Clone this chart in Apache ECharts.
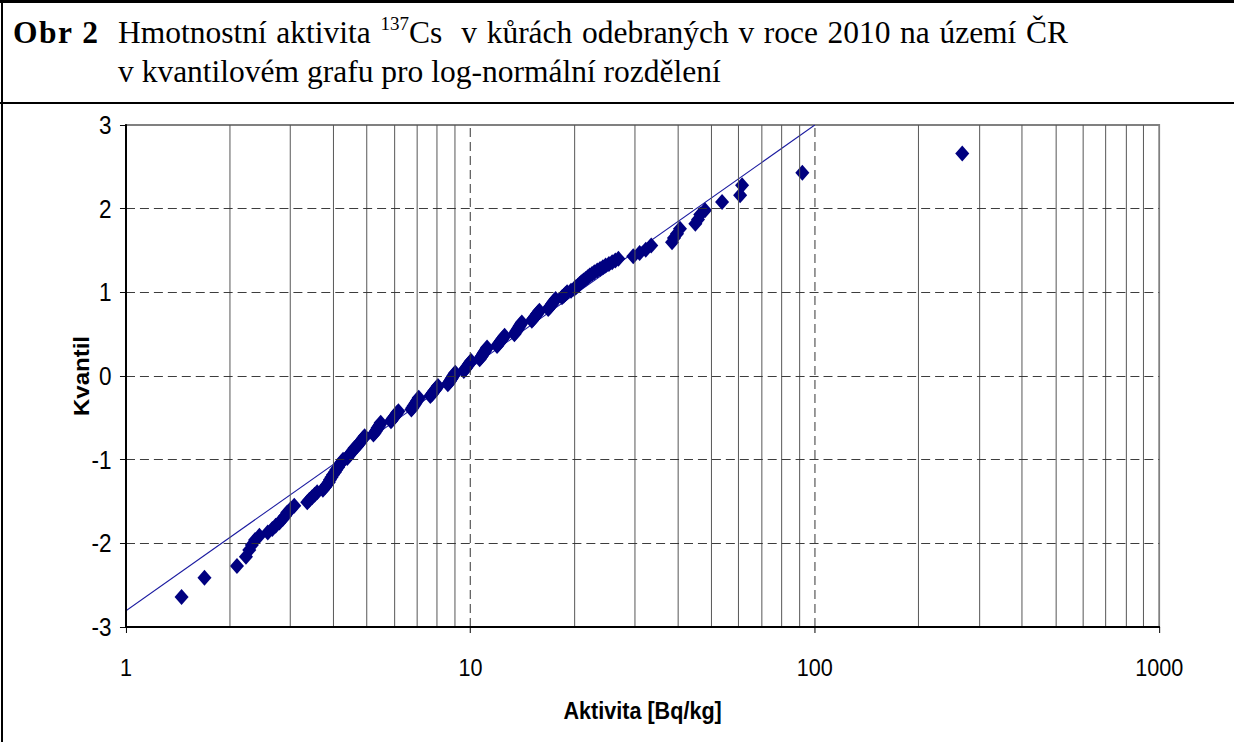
<!DOCTYPE html>
<html>
<head>
<meta charset="utf-8">
<title>Obr 2</title>
<script src="https://cdn.jsdelivr.net/npm/echarts@6.0.0/dist/echarts.min.js"></script>
<style>
  html, body { margin: 0; padding: 0; background: #fff; }
  #page { position: absolute; left: 0; top: 0; width: 1234px; height: 742px; overflow: hidden; background: #fff; }
  /* graf je v originále vodorovně mírně stlačený */
  #myChart { position: absolute; left: 0; top: 0; width: 1372px; height: 742px; transform: scaleX(0.9); transform-origin: 0 0; }
  .rule { position: absolute; background: #000; }
  .head { position: absolute; top: 13px; font-family: "Liberation Serif", "Times New Roman", serif; font-size: 31.5px; line-height: 39px; color: #000; white-space: nowrap; }
  .head sup { font-size: 19px; vertical-align: 13px; line-height: 0; }
  .r1 { word-spacing: 1.7px; }
</style>
</head>
<body>
<div id="page">
  <div id="myChart"></div>
  <div class="rule" style="left:0;top:0;width:1234px;height:3px"></div>
  <div class="rule" style="left:1px;top:0;width:2px;height:742px"></div>
  <div class="rule" style="left:0;top:102px;width:1234px;height:2px"></div>
  <div class="head" style="left:13px;letter-spacing:1.5px"><b>Obr 2</b></div>
  <div class="head" style="left:118px"><span class="r1">Hmotnostní aktivita <sup>137</sup>Cs&nbsp; v kůrách odebraných v&nbsp;roce 2010 na území ČR</span><br>v kvantilovém grafu pro log-normální rozdělení</div>
</div>
<script>
// naměřené hodnoty
var aktivita = [
  1.45, 1.69, 2.10, 2.23, 2.28, 2.32, 2.37, 2.44, 2.58, 2.66, 2.72, 2.79, 2.85, 2.90, 2.94, 3.01, 3.08,
  3.36, 3.41, 3.47, 3.53, 3.59, 3.73, 3.78, 3.83, 3.88, 3.91, 3.95, 3.99, 4.04, 4.08, 4.13, 4.17, 4.22, 4.27,
  4.39, 4.42, 4.46, 4.50, 4.54, 4.58, 4.61,
  4.69, 4.73, 4.77, 4.81, 4.85, 4.89, 4.93,
  5.23, 5.27, 5.31, 5.35, 5.38, 5.42, 5.46, 5.49,
  5.88, 5.93, 5.98, 6.03, 6.08, 6.13, 6.18,
  6.74, 6.79, 6.84, 6.89, 6.94, 6.99, 7.04, 7.08,
  7.65, 7.72, 7.78, 7.85, 7.92, 7.98, 8.05,
  8.60, 8.66, 8.73, 8.79, 8.85, 8.91, 8.98, 9.04,
  9.57, 9.65, 9.73, 9.81, 9.89, 9.97, 10.05,
  10.64, 10.72, 10.80, 10.87, 10.95, 11.03, 11.11, 11.18,
  11.95, 12.05, 12.16, 12.26, 12.36, 12.47, 12.57,
  13.42, 13.52, 13.62, 13.71, 13.81, 13.91, 14.00, 14.10,
  15.08, 15.21, 15.34, 15.47, 15.60, 15.73, 15.86,
  16.82, 16.96, 17.11, 17.25, 17.39, 17.54, 17.68,
  18.45, 18.66, 18.88, 19.09,
  19.6, 20.0, 20.25, 20.5, 20.75, 21.0, 21.3, 21.6, 21.9, 22.2, 22.55, 22.9, 23.35, 23.8, 24.25, 24.7, 25.25, 25.8, 26.35, 26.9,
  29.7, 31.0, 32.3, 33.5, 38.5, 39.0, 39.8, 40.6,
  45.0, 45.8, 46.5, 48.0, 53.8, 60.7, 61.5, 92, 268
];
var kvantil = [
  -2.64, -2.41, -2.27, -2.16, -2.08, -2.02, -1.96, -1.91, -1.87, -1.83, -1.79, -1.75, -1.71, -1.67, -1.63, -1.59, -1.55,
  -1.51, -1.48, -1.45, -1.42, -1.39, -1.36, -1.33, -1.30, -1.27, -1.24, -1.21, -1.18, -1.15, -1.12, -1.09, -1.06, -1.03, -1.00,
  -0.98, -0.96, -0.94, -0.92, -0.90, -0.88, -0.86,
  -0.84, -0.82, -0.80, -0.78, -0.76, -0.74, -0.72,
  -0.70, -0.68, -0.66, -0.64, -0.62, -0.60, -0.58, -0.56,
  -0.54, -0.52, -0.50, -0.48, -0.46, -0.44, -0.42,
  -0.40, -0.38, -0.36, -0.34, -0.32, -0.30, -0.28, -0.26,
  -0.24, -0.22, -0.20, -0.18, -0.16, -0.14, -0.12,
  -0.10, -0.08, -0.06, -0.04, -0.02, 0.00, 0.02, 0.04,
  0.06, 0.08, 0.10, 0.12, 0.14, 0.16, 0.18,
  0.20, 0.22, 0.24, 0.26, 0.28, 0.30, 0.32, 0.34,
  0.36, 0.38, 0.40, 0.42, 0.44, 0.46, 0.48,
  0.50, 0.52, 0.54, 0.56, 0.58, 0.60, 0.62, 0.64,
  0.66, 0.68, 0.70, 0.72, 0.74, 0.76, 0.78,
  0.80, 0.82, 0.84, 0.86, 0.88, 0.90, 0.92,
  0.94, 0.96, 0.98, 1.00,
  1.02, 1.04, 1.06, 1.08, 1.10, 1.12, 1.14, 1.16, 1.18, 1.20, 1.22, 1.24, 1.26, 1.28, 1.30, 1.32, 1.34, 1.36, 1.38, 1.40,
  1.43, 1.47, 1.51, 1.56, 1.60, 1.65, 1.70, 1.76,
  1.82, 1.87, 1.93, 1.98, 2.08, 2.16, 2.28, 2.43, 2.66
];
// teoretická přímka log-normálního rozdělení
var primkaX = [1, 100];
var primkaY = [-2.805, 3.0];
// mřížka
var mrizkaX = [2, 3, 4, 5, 6, 7, 8, 9, 20, 30, 40, 50, 60, 70, 80, 90, 200, 300, 400, 500, 600, 700, 800, 900];
var mrizkaXHlavni = [10, 100];
var mrizkaY = [-2, -1, 0, 1, 2];

var body = aktivita.map(function (x, i) { return [x, kvantil[i]]; });
var primka = primkaX.map(function (x, i) { return [x, primkaY[i]]; });

function gridSeries(items, style) {
  return {
    type: 'line',
    data: [],
    silent: true,
    z: 1,
    markLine: {
      silent: true,
      symbol: ['none', 'none'],
      label: { show: false },
      animation: false,
      lineStyle: style,
      data: items
    }
  };
}

var myChart = echarts.init(document.getElementById('myChart'), null, { renderer: 'svg' });
myChart.setOption({
  animation: false,
  backgroundColor: 'transparent',
  grid: {
    show: true,
    left: 140,
    top: 125,
    width: 1148,
    height: 502,
    borderColor: '#808080',
    borderWidth: 2,
    backgroundColor: '#fff'
  },
  xAxis: {
    type: 'log',
    logBase: 10,
    min: 1,
    max: 1000,
    z: 5,
    name: 'Aktivita [Bq/kg]',
    nameLocation: 'middle',
    nameGap: 72,
    nameMoveOverlap: false,
    nameTextStyle: { fontFamily: 'Liberation Sans', fontWeight: 'bold', fontSize: 24, color: '#000' },
    axisLine: { onZero: false, lineStyle: { color: '#000', width: 2 } },
    axisTick: { show: true, length: 6, lineStyle: { color: '#000', width: 1.1 } },
    axisLabel: {
      fontFamily: 'Liberation Sans', fontSize: 24, color: '#000', margin: 29,
      formatter: function (v) { return String(Math.round(v)); }
    },
    splitLine: { show: false },
    minorTick: { show: false }
  },
  yAxis: {
    type: 'value',
    min: -3,
    max: 3,
    interval: 1,
    z: 5,
    name: 'Kvantil',
    nameLocation: 'middle',
    nameGap: 38,
    nameMoveOverlap: false,
    nameRotate: 90,
    nameTextStyle: { fontFamily: 'Liberation Sans', fontWeight: 'bold', fontSize: 24, color: '#000' },
    axisLine: { show: true, onZero: false, lineStyle: { color: '#000', width: 2.2 } },
    axisTick: { show: true, length: 6.7, lineStyle: { color: '#000', width: 1 } },
    axisLabel: { fontFamily: 'Liberation Sans', fontSize: 25, color: '#000', margin: 16 },
    splitLine: { show: false }
  },
  series: [
    gridSeries(mrizkaX.map(function (v) { return { xAxis: v }; }), { color: '#555', width: 1.1, type: 'solid' }),
    gridSeries(mrizkaXHlavni.map(function (v) { return { xAxis: v }; }), { color: '#333', width: 1.1, type: [9, 5] }),
    gridSeries(mrizkaY.map(function (v) { return { yAxis: v }; }), { color: '#333', width: 1, type: [10, 5.5] }),
    {
      type: 'line',
      data: primka,
      showSymbol: false,
      silent: true,
      z: 3,
      lineStyle: { color: '#1a1aa0', width: 1.1 }
    },
    {
      type: 'scatter',
      data: body,
      symbol: 'diamond',
      symbolSize: [15.6, 16],
      z: 4,
      itemStyle: { color: '#000080', opacity: 1 }
    }
  ]
});
</script>
</body>
</html>
